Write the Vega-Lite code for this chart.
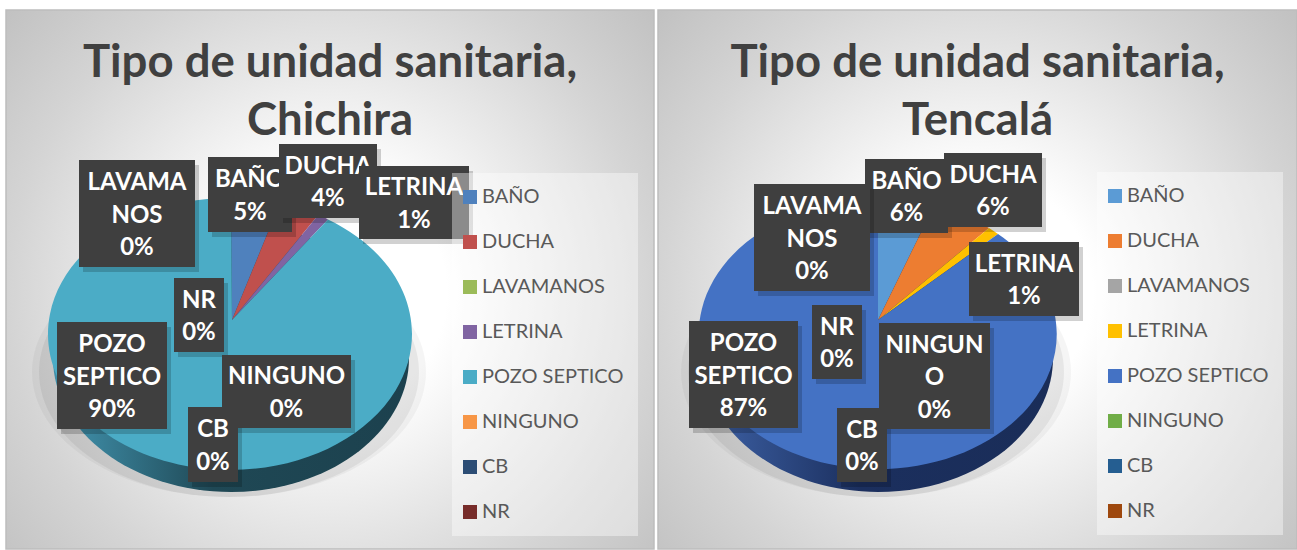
{"$schema":"https://vega.github.io/schema/vega-lite/v6.json","padding":{"left":5,"top":9,"right":0,"bottom":0},"spacing":2,"background":"white","config":{"font":"Lato","view":{"strokeWidth":1.5}},
"resolve":{"scale":{"fill":"independent","x":"independent","y":"independent"},"legend":{"fill":"independent"}},
"datasets":{
"chichira":[{"categoria":"BAÑO","orden":1,"porcentaje":5,"etiqueta":"BAÑO\n5%"},{"categoria":"DUCHA","orden":2,"porcentaje":4,"etiqueta":"DUCHA\n4%"},{"categoria":"LAVAMANOS","orden":3,"porcentaje":0,"etiqueta":"LAVAMA\nNOS\n0%"},{"categoria":"LETRINA","orden":4,"porcentaje":1,"etiqueta":"LETRINA\n1%"},{"categoria":"POZO SEPTICO","orden":5,"porcentaje":90,"etiqueta":"POZO\nSEPTICO\n90%"},{"categoria":"NINGUNO","orden":6,"porcentaje":0,"etiqueta":"NINGUNO\n0%"},{"categoria":"CB","orden":7,"porcentaje":0,"etiqueta":"CB\n0%"},{"categoria":"NR","orden":8,"porcentaje":0,"etiqueta":"NR\n0%"}],
"tencala":[{"categoria":"BAÑO","orden":1,"porcentaje":6,"etiqueta":"BAÑO\n6%"},{"categoria":"DUCHA","orden":2,"porcentaje":6,"etiqueta":"DUCHA\n6%"},{"categoria":"LAVAMANOS","orden":3,"porcentaje":0,"etiqueta":"LAVAMA\nNOS\n0%"},{"categoria":"LETRINA","orden":4,"porcentaje":1,"etiqueta":"LETRINA\n1%"},{"categoria":"POZO SEPTICO","orden":5,"porcentaje":87,"etiqueta":"POZO\nSEPTICO\n87%"},{"categoria":"NINGUNO","orden":6,"porcentaje":0,"etiqueta":"NINGUN\nO\n0%"},{"categoria":"CB","orden":7,"porcentaje":0,"etiqueta":"CB\n0%"},{"categoria":"NR","orden":8,"porcentaje":0,"etiqueta":"NR\n0%"}]},
"hconcat":[
{"width":648,"height":539,"data":{"name":"chichira"},
"view":{"stroke":"#bdbdbd","fill":{"gradient":"radial","x1":0.5,"y1":0.52,"x2":0.5,"y2":0.52,"r1":0,"r2":0.72,"stops":[{"offset":0,"color":"#ffffff"},{"offset":0.25,"color":"#ffffff"},{"offset":0.69,"color":"#d4d4d4"},{"offset":1,"color":"#bbbbbb"}]}},
"title":{"text":["Tipo de unidad sanitaria,","Chichira"],"anchor":"middle","frame":"group","baseline":"top","offset":-134,"fontSize":45.5,"lineHeight":58,"font":"Lato","fontWeight":"bold","color":"#404040"},
"resolve":{"scale":{"shape":"independent"}},
"layer":[
{"data":{"values":[{"pieza":"sombra exterior"}]},"mark":{"type":"point","filled":true,"size":4,"opacity":0.04,"fill":"#000000","shape":"M-298,92.5A197,125 0 1 1 96,92.5A197,125 0 1 1 -298,92.5Z"},"encoding":{}},
{"data":{"values":[{"pieza":"sombra interior"}]},"mark":{"type":"point","filled":true,"size":4,"opacity":0.06,"fill":"#000000","shape":"M-291,92.5A190,125 0 1 1 89,92.5A190,125 0 1 1 -291,92.5Z"},"encoding":{}},
{"data":{"values":[{"pieza":"lateral"}]},"mark":{"type":"point","filled":true,"size":4,"opacity":1,"shape":"M-277,78.5A178,134 0 1 1 79,78.5A178,134 0 1 1 -277,78.5Z","fill":{"gradient":"linear","x1":0,"y1":0,"x2":1,"y2":0,"stops":[{"offset":0.05,"color":"#3f8ea8"},{"offset":0.45,"color":"#1f4855"},{"offset":1,"color":"#1c414e"}]}},"encoding":{}},
{"transform":[{"filter":"datum.porcentaje > 0"}],"mark":{"type":"point","filled":true,"size":4,"opacity":1,"strokeWidth":0},
"encoding":{"fill":{"field":"categoria","type":"nominal","scale":{"domain":["BAÑO","DUCHA","LAVAMANOS","LETRINA","POZO SEPTICO","NINGUNO","CB","NR"],"range":["#4f81bd","#c0504d","#9bbb59","#8064a2","#4bacc6","#f79646","#2c4d75","#772c2a"]},"legend":{"title":null,"orient":"none","legendX":446,"legendY":163,"zindex":1,"fillColor":"rgba(255,255,255,0.4)","padding":14,"symbolType":"square","symbolSize":196,"symbolStrokeWidth":0,"symbolOffset":-6,"labelFont":"Lato","labelFontSize":20,"labelColor":"#595959","labelOffset":2,"rowPadding":25,"labelLimit":300}},
"shape":{"field":"categoria","type":"nominal","legend":null,"scale":{"domain":["BAÑO","DUCHA","LETRINA","POZO SEPTICO"],"range":["M-98,40.5L-99,-81.5A182,136 0 0 1 -50,-76.5Z","M-98,40.5L-50,-76.5A182,136 0 0 1 -11,-65.5Z","M-98,40.5L-11,-65.5A182,136 0 0 1 -2,-60.1Z","M-98,40.5L-2,-60.1A182,136 0 1 1 -99,-81.5Z"]}}}},
{"transform":[{"filter":"datum.orden == 1"}],"encoding":{"x":{"field":"orden","type":"quantitative","axis":null,"scale":{"nice":false,"zero":false,"domain":[1,2,3,4,5,6,7,8],"range":[244,322,131,408,106,280.5,207,193]}},"y":{"field":"orden","type":"quantitative","axis":null,"scale":{"nice":false,"zero":false,"domain":[1,2,3,4,5,6,7,8],"range":[184.5,171,203.5,192.5,365.5,381.5,434.5,305]}},"shape":{"field":"categoria","type":"nominal","legend":null,"scale":{"domain":["BAÑO","DUCHA","LAVAMANOS","LETRINA","POZO SEPTICO","NINGUNO","CB","NR"],"range":["M-42,-37.5L42,-37.5L42,37.5L-42,37.5Z","M-49,-37L49,-37L49,37L-49,37Z","M-58,-53.5L58,-53.5L58,53.5L-58,53.5Z","M-55,-36.5L55,-36.5L55,36.5L-55,36.5Z","M-55,-53.5L55,-53.5L55,53.5L-55,53.5Z","M-64.5,-36.5L64.5,-36.5L64.5,36.5L-64.5,36.5Z","M-25,-37.5L25,-37.5L25,37.5L-25,37.5Z","M-25,-37L25,-37L25,37L-25,37Z"]}}},
"layer":[{"mark":{"type":"point","filled":true,"size":4,"opacity":0.18,"fill":"#000000","xOffset":4,"yOffset":5}},{"mark":{"type":"point","filled":true,"size":4,"opacity":1,"fill":"#3f3f3f"}},{"mark":{"type":"text","lineBreak":"\n","lineHeight":32.5,"font":"Lato","fontWeight":"bold","fontSize":24,"fill":"#ffffff","baseline":"middle","dy":{"expr":"2-16.25*(length(split(datum.etiqueta,'\\n'))-1)"}},"encoding":{"text":{"field":"etiqueta"},"shape":null}}]},
{"transform":[{"filter":"datum.orden == 2"}],"encoding":{"x":{"field":"orden","type":"quantitative","axis":null,"scale":{"nice":false,"zero":false,"domain":[1,2,3,4,5,6,7,8],"range":[244,322,131,408,106,280.5,207,193]}},"y":{"field":"orden","type":"quantitative","axis":null,"scale":{"nice":false,"zero":false,"domain":[1,2,3,4,5,6,7,8],"range":[184.5,171,203.5,192.5,365.5,381.5,434.5,305]}},"shape":{"field":"categoria","type":"nominal","legend":null,"scale":{"domain":["BAÑO","DUCHA","LAVAMANOS","LETRINA","POZO SEPTICO","NINGUNO","CB","NR"],"range":["M-42,-37.5L42,-37.5L42,37.5L-42,37.5Z","M-49,-37L49,-37L49,37L-49,37Z","M-58,-53.5L58,-53.5L58,53.5L-58,53.5Z","M-55,-36.5L55,-36.5L55,36.5L-55,36.5Z","M-55,-53.5L55,-53.5L55,53.5L-55,53.5Z","M-64.5,-36.5L64.5,-36.5L64.5,36.5L-64.5,36.5Z","M-25,-37.5L25,-37.5L25,37.5L-25,37.5Z","M-25,-37L25,-37L25,37L-25,37Z"]}}},
"layer":[{"mark":{"type":"point","filled":true,"size":4,"opacity":0.18,"fill":"#000000","xOffset":4,"yOffset":5}},{"mark":{"type":"point","filled":true,"size":4,"opacity":1,"fill":"#3f3f3f"}},{"mark":{"type":"text","lineBreak":"\n","lineHeight":32.5,"font":"Lato","fontWeight":"bold","fontSize":24,"fill":"#ffffff","baseline":"middle","dy":{"expr":"2-16.25*(length(split(datum.etiqueta,'\\n'))-1)"}},"encoding":{"text":{"field":"etiqueta"},"shape":null}}]},
{"transform":[{"filter":"datum.orden > 2"}],"encoding":{"x":{"field":"orden","type":"quantitative","axis":null,"scale":{"nice":false,"zero":false,"domain":[1,2,3,4,5,6,7,8],"range":[244,322,131,408,106,280.5,207,193]}},"y":{"field":"orden","type":"quantitative","axis":null,"scale":{"nice":false,"zero":false,"domain":[1,2,3,4,5,6,7,8],"range":[184.5,171,203.5,192.5,365.5,381.5,434.5,305]}},"shape":{"field":"categoria","type":"nominal","legend":null,"scale":{"domain":["BAÑO","DUCHA","LAVAMANOS","LETRINA","POZO SEPTICO","NINGUNO","CB","NR"],"range":["M-42,-37.5L42,-37.5L42,37.5L-42,37.5Z","M-49,-37L49,-37L49,37L-49,37Z","M-58,-53.5L58,-53.5L58,53.5L-58,53.5Z","M-55,-36.5L55,-36.5L55,36.5L-55,36.5Z","M-55,-53.5L55,-53.5L55,53.5L-55,53.5Z","M-64.5,-36.5L64.5,-36.5L64.5,36.5L-64.5,36.5Z","M-25,-37.5L25,-37.5L25,37.5L-25,37.5Z","M-25,-37L25,-37L25,37L-25,37Z"]}}},
"layer":[{"mark":{"type":"point","filled":true,"size":4,"opacity":0.18,"fill":"#000000","xOffset":4,"yOffset":5}},{"mark":{"type":"point","filled":true,"size":4,"opacity":1,"fill":"#3f3f3f"}},{"mark":{"type":"text","lineBreak":"\n","lineHeight":32.5,"font":"Lato","fontWeight":"bold","fontSize":24,"fill":"#ffffff","baseline":"middle","dy":{"expr":"2-16.25*(length(split(datum.etiqueta,'\\n'))-1)"}},"encoding":{"text":{"field":"etiqueta"},"shape":null}}]}
]},
{"width":639,"height":539,"data":{"name":"tencala"},
"view":{"stroke":"#bdbdbd","fill":{"gradient":"radial","x1":0.5,"y1":0.52,"x2":0.5,"y2":0.52,"r1":0,"r2":0.72,"stops":[{"offset":0,"color":"#ffffff"},{"offset":0.25,"color":"#ffffff"},{"offset":0.69,"color":"#d4d4d4"},{"offset":1,"color":"#bbbbbb"}]}},
"title":{"text":["Tipo de unidad sanitaria,","Tencalá"],"anchor":"middle","frame":"group","baseline":"top","offset":-134,"fontSize":45.5,"lineHeight":58,"font":"Lato","fontWeight":"bold","color":"#404040"},
"resolve":{"scale":{"shape":"independent"}},
"layer":[
{"data":{"values":[{"pieza":"sombra exterior"}]},"mark":{"type":"point","filled":true,"size":4,"opacity":0.04,"fill":"#000000","shape":"M-296.5,92.5A195,125 0 1 1 93.5,92.5A195,125 0 1 1 -296.5,92.5Z"},"encoding":{}},
{"data":{"values":[{"pieza":"sombra interior"}]},"mark":{"type":"point","filled":true,"size":4,"opacity":0.06,"fill":"#000000","shape":"M-289.5,92.5A188,125 0 1 1 86.5,92.5A188,125 0 1 1 -289.5,92.5Z"},"encoding":{}},
{"data":{"values":[{"pieza":"lateral"}]},"mark":{"type":"point","filled":true,"size":4,"opacity":1,"shape":"M-274.5,78.5A175,134 0 1 1 75.5,78.5A175,134 0 1 1 -274.5,78.5Z","fill":{"gradient":"linear","x1":0,"y1":0,"x2":1,"y2":0,"stops":[{"offset":0.05,"color":"#3a5c9e"},{"offset":0.45,"color":"#1b2f5e"},{"offset":1,"color":"#1a2d58"}]}},"encoding":{}},
{"transform":[{"filter":"datum.porcentaje > 0"}],"mark":{"type":"point","filled":true,"size":4,"opacity":1,"strokeWidth":0},
"encoding":{"fill":{"field":"categoria","type":"nominal","scale":{"domain":["BAÑO","DUCHA","LAVAMANOS","LETRINA","POZO SEPTICO","NINGUNO","CB","NR"],"range":["#5b9bd5","#ed7d31","#a5a5a5","#ffc000","#4472c4","#70ad47","#255e91","#9e480e"]},"legend":{"title":null,"orient":"none","legendX":439,"legendY":162,"zindex":1,"fillColor":"rgba(255,255,255,0.4)","padding":14,"symbolType":"square","symbolSize":196,"symbolStrokeWidth":0,"symbolOffset":-6,"labelFont":"Lato","labelFontSize":20,"labelColor":"#595959","labelOffset":2,"rowPadding":25,"labelLimit":300}},
"shape":{"field":"categoria","type":"nominal","legend":null,"scale":{"domain":["BAÑO","DUCHA","LETRINA","POZO SEPTICO"],"range":["M-99.5,40.5L-99.5,-80.5A179,135 0 0 1 -43.5,-73.5Z","M-99.5,40.5L-43.5,-73.5A179,135 0 0 1 11.5,-51.5Z","M-99.5,40.5L11.5,-51.5A179,135 0 0 1 20.5,-45.5Z","M-99.5,40.5L20.5,-45.5A179,135 0 1 1 -99.5,-80.5Z"]}}}},
{"transform":[{"filter":"datum.orden == 1"}],"encoding":{"x":{"field":"orden","type":"quantitative","axis":null,"scale":{"nice":false,"zero":false,"domain":[1,2,3,4,5,6,7,8],"range":[248.5,335,154,366,85.5,276.5,204,179]}},"y":{"field":"orden","type":"quantitative","axis":null,"scale":{"nice":false,"zero":false,"domain":[1,2,3,4,5,6,7,8],"range":[186,180,227.5,269,364.5,366,435,332]}},"shape":{"field":"categoria","type":"nominal","legend":null,"scale":{"domain":["BAÑO","DUCHA","LAVAMANOS","LETRINA","POZO SEPTICO","NINGUNO","CB","NR"],"range":["M-41.5,-37L41.5,-37L41.5,37L-41.5,37Z","M-49,-37L49,-37L49,37L-49,37Z","M-58,-53.5L58,-53.5L58,53.5L-58,53.5Z","M-55,-37L55,-37L55,37L-55,37Z","M-54.5,-53.5L54.5,-53.5L54.5,53.5L-54.5,53.5Z","M-55.5,-53L55.5,-53L55.5,53L-55.5,53Z","M-25,-37L25,-37L25,37L-25,37Z","M-25,-37L25,-37L25,37L-25,37Z"]}}},
"layer":[{"mark":{"type":"point","filled":true,"size":4,"opacity":0.18,"fill":"#000000","xOffset":4,"yOffset":5}},{"mark":{"type":"point","filled":true,"size":4,"opacity":1,"fill":"#3f3f3f"}},{"mark":{"type":"text","lineBreak":"\n","lineHeight":32.5,"font":"Lato","fontWeight":"bold","fontSize":24,"fill":"#ffffff","baseline":"middle","dy":{"expr":"2-16.25*(length(split(datum.etiqueta,'\\n'))-1)"}},"encoding":{"text":{"field":"etiqueta"},"shape":null}}]},
{"transform":[{"filter":"datum.orden == 2"}],"encoding":{"x":{"field":"orden","type":"quantitative","axis":null,"scale":{"nice":false,"zero":false,"domain":[1,2,3,4,5,6,7,8],"range":[248.5,335,154,366,85.5,276.5,204,179]}},"y":{"field":"orden","type":"quantitative","axis":null,"scale":{"nice":false,"zero":false,"domain":[1,2,3,4,5,6,7,8],"range":[186,180,227.5,269,364.5,366,435,332]}},"shape":{"field":"categoria","type":"nominal","legend":null,"scale":{"domain":["BAÑO","DUCHA","LAVAMANOS","LETRINA","POZO SEPTICO","NINGUNO","CB","NR"],"range":["M-41.5,-37L41.5,-37L41.5,37L-41.5,37Z","M-49,-37L49,-37L49,37L-49,37Z","M-58,-53.5L58,-53.5L58,53.5L-58,53.5Z","M-55,-37L55,-37L55,37L-55,37Z","M-54.5,-53.5L54.5,-53.5L54.5,53.5L-54.5,53.5Z","M-55.5,-53L55.5,-53L55.5,53L-55.5,53Z","M-25,-37L25,-37L25,37L-25,37Z","M-25,-37L25,-37L25,37L-25,37Z"]}}},
"layer":[{"mark":{"type":"point","filled":true,"size":4,"opacity":0.18,"fill":"#000000","xOffset":4,"yOffset":5}},{"mark":{"type":"point","filled":true,"size":4,"opacity":1,"fill":"#3f3f3f"}},{"mark":{"type":"text","lineBreak":"\n","lineHeight":32.5,"font":"Lato","fontWeight":"bold","fontSize":24,"fill":"#ffffff","baseline":"middle","dy":{"expr":"2-16.25*(length(split(datum.etiqueta,'\\n'))-1)"}},"encoding":{"text":{"field":"etiqueta"},"shape":null}}]},
{"transform":[{"filter":"datum.orden > 2"}],"encoding":{"x":{"field":"orden","type":"quantitative","axis":null,"scale":{"nice":false,"zero":false,"domain":[1,2,3,4,5,6,7,8],"range":[248.5,335,154,366,85.5,276.5,204,179]}},"y":{"field":"orden","type":"quantitative","axis":null,"scale":{"nice":false,"zero":false,"domain":[1,2,3,4,5,6,7,8],"range":[186,180,227.5,269,364.5,366,435,332]}},"shape":{"field":"categoria","type":"nominal","legend":null,"scale":{"domain":["BAÑO","DUCHA","LAVAMANOS","LETRINA","POZO SEPTICO","NINGUNO","CB","NR"],"range":["M-41.5,-37L41.5,-37L41.5,37L-41.5,37Z","M-49,-37L49,-37L49,37L-49,37Z","M-58,-53.5L58,-53.5L58,53.5L-58,53.5Z","M-55,-37L55,-37L55,37L-55,37Z","M-54.5,-53.5L54.5,-53.5L54.5,53.5L-54.5,53.5Z","M-55.5,-53L55.5,-53L55.5,53L-55.5,53Z","M-25,-37L25,-37L25,37L-25,37Z","M-25,-37L25,-37L25,37L-25,37Z"]}}},
"layer":[{"mark":{"type":"point","filled":true,"size":4,"opacity":0.18,"fill":"#000000","xOffset":4,"yOffset":5}},{"mark":{"type":"point","filled":true,"size":4,"opacity":1,"fill":"#3f3f3f"}},{"mark":{"type":"text","lineBreak":"\n","lineHeight":32.5,"font":"Lato","fontWeight":"bold","fontSize":24,"fill":"#ffffff","baseline":"middle","dy":{"expr":"2-16.25*(length(split(datum.etiqueta,'\\n'))-1)"}},"encoding":{"text":{"field":"etiqueta"},"shape":null}}]}
]}
]}
